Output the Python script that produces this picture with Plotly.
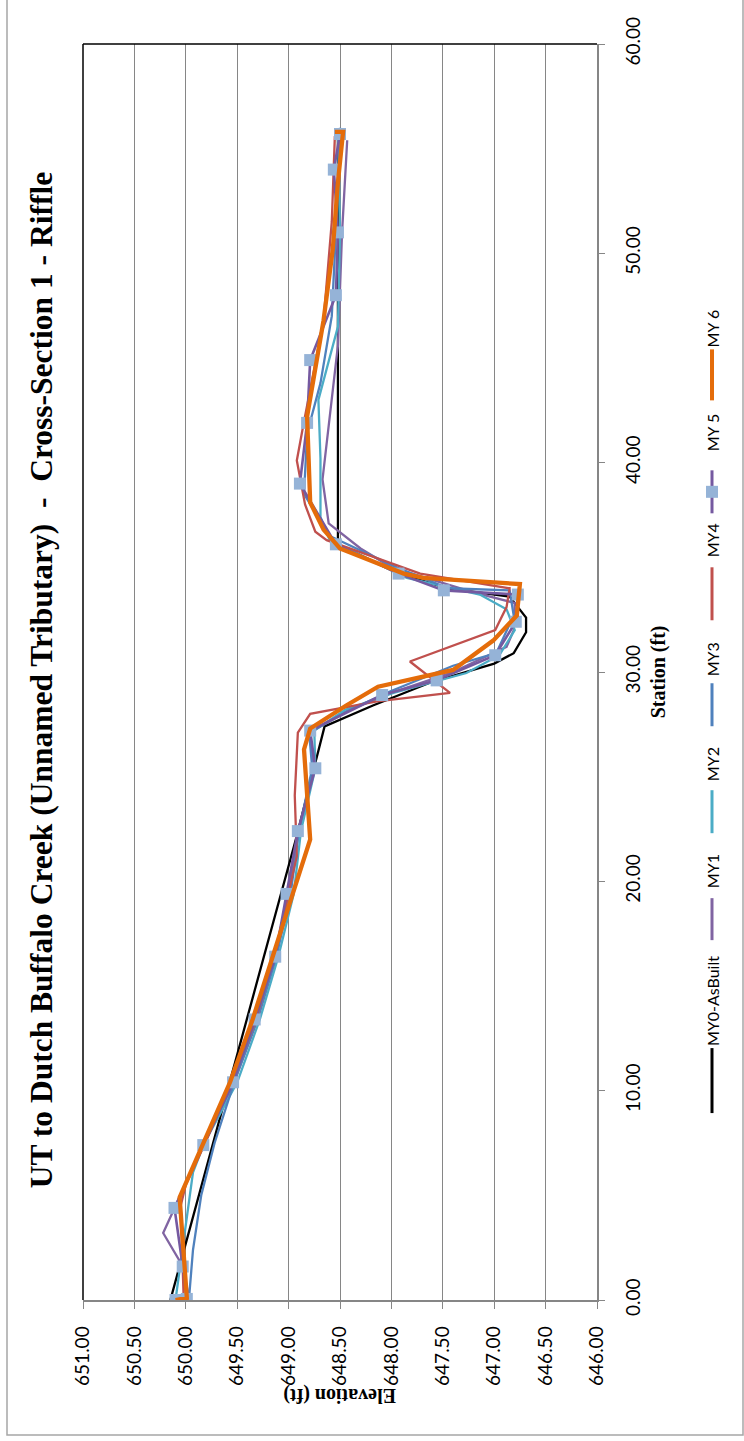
import plotly.graph_objects as go

# Cross-section survey data: station (ft) along the section, elevation (ft)
my0_sta = [0.0, 22.0, 27.4, 28.4, 29.5, 30.4, 30.9, 31.9, 32.6, 33.6, 34.0, 34.7, 36.1, 36.65, 55.7]
my0_elev = [650.15, 648.93, 648.65, 648.18, 647.62, 647.00, 646.81, 646.69, 646.69, 646.85,
            647.45, 647.93, 648.52, 648.52, 648.52]

my1_sta = [0.0, 1.7, 3.2, 4.4, 7.4, 10.4, 13.4, 16.4, 19.4, 22.4, 25.4, 27.1, 28.1, 29.0,
           30.0, 31.2, 32.0, 33.3, 33.8, 35.0, 35.9, 37.1, 39.2, 45.6, 51.0, 55.4]
my1_elev = [649.96, 650.04, 650.22, 650.11, 649.83, 649.53, 649.30, 649.12, 649.00, 648.90,
            648.75, 648.80, 648.45, 648.00, 647.40, 646.88, 646.81, 646.80, 647.20, 648.00,
            648.30, 648.61, 648.67, 648.52, 648.48, 648.43]

my2_sta = [0.0, 6.1, 7.5, 10.4, 13.4, 16.4, 19.4, 22.4, 25.4, 27.2, 28.2, 29.0, 29.95, 30.8,
           32.0, 33.0, 33.7, 34.5, 36.3, 37.4, 40.2, 43.0, 46.5, 51.0, 55.8]
my2_elev = [650.10, 649.93, 649.82, 649.50, 649.28, 649.10, 648.95, 648.88, 648.74, 648.75,
            648.45, 647.98, 647.27, 646.95, 646.80, 646.88, 647.14, 647.85, 648.60, 648.69,
            648.69, 648.71, 648.52, 648.50, 648.52]

my3_sta = [0.0, 2.4, 5.0, 7.5, 10.4, 13.4, 16.4, 19.4, 22.4, 25.4, 27.1, 28.2, 29.0, 30.3,
           30.9, 32.7, 33.9, 34.0, 35.0, 36.5, 38.5, 41.4, 43.8, 47.0, 52.0, 56.0]
my3_elev = [649.97, 649.93, 649.85, 649.72, 649.53, 649.31, 649.12, 648.98, 648.90, 648.77,
            648.80, 648.40, 648.05, 647.40, 646.98, 646.81, 646.85, 647.45, 647.95, 648.60,
            648.85, 648.82, 648.69, 648.58, 648.53, 648.50]

my4_sta = [0.0, 4.5, 5.5, 7.4, 10.4, 13.4, 16.4, 19.4, 21.2, 24.1, 27.1, 28.0, 28.6, 29.0,
           30.5, 32.0, 33.1, 34.0, 34.7, 36.3, 36.7, 38.0, 40.1, 41.7, 46.8, 51.5, 55.6]
my4_elev = [650.02, 650.05, 650.00, 649.82, 649.55, 649.32, 649.14, 649.00, 648.92, 648.94,
            648.91, 648.79, 648.14, 647.43, 647.82, 646.99, 646.88, 646.85, 647.72, 648.63,
            648.74, 648.84, 648.92, 648.86, 648.66, 648.58, 648.55]

my5_sta = [0.0, 0.05, 1.6, 4.4, 7.4, 10.4, 13.4, 16.4, 19.4, 22.4, 25.4, 27.2, 28.9, 29.6,
           30.8, 32.4, 33.7, 33.9, 34.7, 36.1, 39.0, 41.9, 44.9, 48.0, 51.0, 54.0, 55.7]
my5_elev = [650.10, 649.99, 650.03, 650.11, 649.83, 649.54, 649.33, 649.13, 649.02, 648.91,
            648.74, 648.79, 648.09, 647.56, 646.99, 646.79, 646.77, 647.49, 647.93, 648.54,
            648.89, 648.82, 648.79, 648.54, 648.52, 648.56, 648.50]

my6_sta = [0.0, 0.1, 4.9, 10.4, 13.4, 16.4, 19.4, 22.0, 23.9, 26.3, 27.3, 28.4, 29.3, 29.8,
           30.1, 31.5, 32.7, 34.2, 34.5, 34.7, 35.9, 36.8, 38.1, 42.2, 46.8, 50.2, 53.4, 55.8, 55.8]
my6_elev = [650.10, 649.99, 650.06, 649.57, 649.35, 649.15, 648.96, 648.79, 648.82, 648.85,
            648.79, 648.44, 648.13, 647.69, 647.40, 647.01, 646.78, 646.75, 647.69, 647.88,
            648.50, 648.66, 648.79, 648.82, 648.66, 648.57, 648.52, 648.47, 648.55]

series_names = ["MY0-AsBuilt", "MY1", "MY2", "MY3", "MY4", "MY 5", "MY 6"]
series_sta = [my0_sta, my1_sta, my2_sta, my3_sta, my4_sta, my5_sta, my6_sta]
series_elev = [my0_elev, my1_elev, my2_elev, my3_elev, my4_elev, my5_elev, my6_elev]
series_colors = ["#000000", "#8064A2", "#4BACC6", "#4F81BD", "#C0504D", "#7559A0", "#E46C0A"]
series_widths = [2.3, 2.3, 2.3, 2.3, 2.3, 2.6, 4.3]
marker_color = "#95B3D7"

W, H = 744, 1441
PL, PR, PT, PB = 83, 597, 43.5, 1300   # plot-area edges in pixels


def px(x):
    return (x - PL) / (PR - PL)


def py(y):
    return (PB - y) / (PB - PT)


fig = go.Figure()
for name, sta, elev, col, wd in zip(series_names, series_sta, series_elev,
                                    series_colors, series_widths):
    if name == "MY 5":
        fig.add_trace(go.Scatter(
            x=elev, y=sta, mode="lines+markers", name=name,
            line=dict(color=col, width=wd),
            marker=dict(symbol="square", size=12, color=marker_color),
            showlegend=False))
    else:
        fig.add_trace(go.Scatter(
            x=elev, y=sta, mode="lines", name=name,
            line=dict(color=col, width=wd), showlegend=False))

tick_font = dict(family="Lato", size=19, color="#000000")
grey = "#868686"

fig.update_layout(
    width=W, height=H,
    margin=dict(l=PL, r=W - PR, t=PT, b=H - PB),
    paper_bgcolor="white", plot_bgcolor="white",
    xaxis=dict(range=[651, 646], tick0=646, dtick=0.5, tickformat=".2f",
               tickangle=-90, tickfont=tick_font, showgrid=True, gridcolor=grey,
               gridwidth=1.2, showline=True, linecolor=grey, linewidth=1.5,
               ticks="outside", ticklen=7, tickcolor=grey, zeroline=False,
               ticklabelstandoff=10),
    yaxis=dict(range=[0, 60], dtick=10, tickformat=".2f", side="right",
               tickangle=-90, tickfont=tick_font, showgrid=False, showline=True,
               linecolor=grey, linewidth=1.5, ticks="outside", ticklen=6,
               tickcolor=grey, zeroline=False, ticklabelstandoff=12),
)

shapes = [
    # plot-area border on the left and top
    dict(type="line", xref="paper", yref="paper", x0=0, x1=0, y0=0, y1=1,
         line=dict(color="#000000", width=1.5)),
    dict(type="line", xref="paper", yref="paper", x0=0, x1=1, y0=1, y1=1,
         line=dict(color="#000000", width=1.5)),
    # chart frame
    dict(type="rect", xref="paper", yref="paper", x0=px(7), x1=px(743),
         y0=py(1435), y1=py(-10), line=dict(color="#A6A6A6", width=1.5)),
]


def label(text, x, y, angle, family, size):
    return dict(text=text, xref="paper", yref="paper", x=px(x), y=py(y),
                xanchor="center", yanchor="middle", showarrow=False,
                textangle=angle, font=dict(family=family, size=size, color="#000000"))


annotations = [
    label("<b>UT to Dutch Buffalo Creek (Unnamed Tributary)  -  Cross-Section 1 - Riffle</b>",
          41, 680, -90, "Liberation Serif", 31.5),
    label("<b>Elevation (ft)</b>", 340, 1395, 180, "Liberation Serif", 20),
    label("<b>Station (ft)</b>", 658, 672, -90, "Liberation Serif", 20),
]

# legend laid out along the right edge, reading bottom to top
leg_x = 712
leg_line = [(1113, 1048), (940, 898), (833, 790), (726, 683), (620, 567), (513, 470), (400, 349)]
leg_text_c = [1001, 871, 764, 659, 540, 432, 328]
for i, name in enumerate(series_names):
    y0, y1 = leg_line[i]
    shapes.append(dict(type="line", xref="paper", yref="paper", x0=px(leg_x), x1=px(leg_x),
                       y0=py(y0), y1=py(y1),
                       line=dict(color=series_colors[i], width=3 if i < 6 else 4)))
    if name == "MY 5":
        yc = (y0 + y1) / 2
        shapes.append(dict(type="rect", xref="paper", yref="paper",
                           x0=px(leg_x - 6), x1=px(leg_x + 6), y0=py(yc + 6), y1=py(yc - 6),
                           fillcolor=marker_color, line=dict(width=0)))
    annotations.append(label(name, leg_x, leg_text_c[i], -90, "Lato", 16))

fig.update_layout(shapes=shapes, annotations=annotations)
fig.write_html("out.html")
